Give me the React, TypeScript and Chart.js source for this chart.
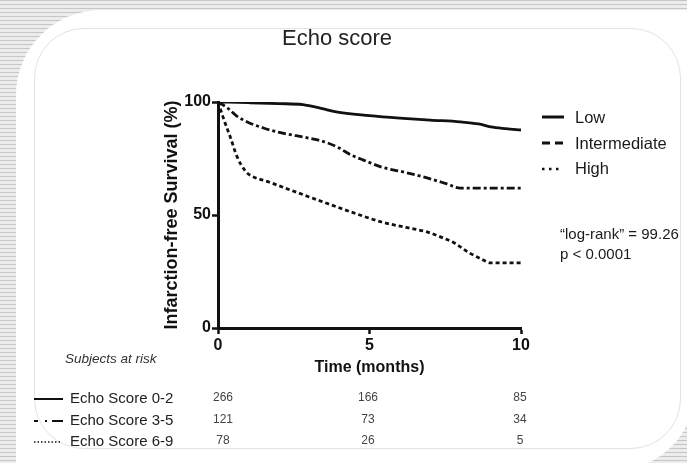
import React, { useEffect, useRef } from 'react';
import { Chart, registerables } from 'chart.js';

Chart.register(...registerables);

const FONT = '"Liberation Sans", Arial, Helvetica, sans-serif';

// ---- data ----
const seriesNames = ['Low', 'Intermediate', 'High'];

const timeLow = [0, 1, 2, 2.8, 3.4, 3.9, 5, 6, 7, 8, 8.6, 9, 9.5, 10];
const survivalLow = [100, 99.7, 99.3, 98.8, 97.2, 95.6, 94, 92.9, 92, 91.2, 90.3, 89, 88.2, 87.6];

const timeIntermediate = [0, 0.3, 0.6, 0.95, 1.5, 2.1, 3, 3.6, 4, 4.4, 4.8, 5.4, 6.2, 6.9, 7.5, 8, 10];
const survivalIntermediate = [100, 97.5, 94, 91.3, 88.5, 86.3, 84, 82, 79.6, 76.5, 74.3, 71.2, 68.8, 66.4, 64, 61.9, 61.9];

const timeHigh = [0, 0.2, 0.4, 0.63, 0.9, 1.05, 1.7, 2.4, 3.3, 4.4, 5.4, 6.2, 6.9, 7.4, 7.8, 8.3, 8.7, 9, 10];
const survivalHigh = [100, 92, 84.7, 75.8, 69.5, 67.7, 64.5, 61, 56.6, 51.3, 46.9, 44.5, 42.5, 40, 37.6, 33.2, 30.5, 28.8, 28.8];

const xTickStep = 5;
const yTickStep = 50;

const riskTitle = 'Subjects at risk';
const riskLabels = ['Echo Score 0-2', 'Echo Score 3-5', 'Echo Score 6-9'];
const riskLow = [266, 166, 85];
const riskIntermediate = [121, 73, 34];
const riskHigh = [78, 26, 5];

const chartTitle = 'Echo score';
const annotationLines = ['\u201Clog-rank\u201D = 99.26', 'p < 0.0001'];

// ---- layout (pixels) ----
const W = 687;
const H = 463;
const riskCols = [223, 368, 520];
const riskRows = [397, 419, 440];
const legendRows = [117, 143, 168];

type TP = { x: number; y: number; size: number; center?: boolean; style?: React.CSSProperties; children: React.ReactNode };
function T({ x, y, size, center, style, children }: TP) {
  return (
    <div
      style={{
        position: 'absolute',
        left: x,
        top: y,
        transform: center ? 'translate(-50%, -50%)' : 'translate(0, -50%)',
        fontFamily: FONT,
        fontSize: size,
        lineHeight: 1,
        whiteSpace: 'nowrap',
        color: '#1a1a1a',
        ...style,
      }}
    >
      {children}
    </div>
  );
}

export default function App() {
  const ref = useRef<HTMLCanvasElement>(null);

  useEffect(() => {
    const canvas = ref.current;
    if (!canvas) return;
    Chart.defaults.font.family = FONT;
    const mk = (t: number[], v: number[]) => t.map((x, i) => ({ x, y: v[i] }));
    const common = {
      borderColor: '#111',
      backgroundColor: '#111',
      borderWidth: 2.8,
      pointRadius: 0,
      fill: false,
      cubicInterpolationMode: 'monotone' as const,
    };
    const chart = new Chart(canvas, {
      type: 'line',
      data: {
        datasets: [
          { ...common, label: seriesNames[0], data: mk(timeLow, survivalLow) },
          { ...common, label: seriesNames[1], data: mk(timeIntermediate, survivalIntermediate), borderDash: [8, 3, 3, 3] },
          { ...common, label: seriesNames[2], data: mk(timeHigh, survivalHigh), borderDash: [4, 3] },
        ],
      },
      options: {
        animation: false,
        responsive: false,
        maintainAspectRatio: false,
        layout: { padding: { top: 102, right: 166, left: 0, bottom: 0 } },
        plugins: { legend: { display: false }, tooltip: { enabled: false } },
        scales: {
          x: {
            type: 'linear',
            min: 0,
            max: 10,
            afterFit: (s: any) => { s.height = H - 328; },
            ticks: { stepSize: xTickStep, font: { size: 16, weight: 'bold' }, color: '#111', padding: 2, maxRotation: 0 },
            grid: { drawOnChartArea: false, drawTicks: true, tickLength: 6, tickWidth: 2.5, tickColor: '#111' },
            border: { display: true, color: '#111', width: 3 },
            title: {
              display: true,
              text: 'Time (months)',
              font: { size: 16, weight: 'bold' },
              color: '#111',
              padding: { top: 0, bottom: 86 },
            },
          },
          y: {
            type: 'linear',
            min: 0,
            max: 100,
            afterFit: (s: any) => { s.width = 218; },
            ticks: { stepSize: yTickStep, font: { size: 16, weight: 'bold' }, color: '#111', padding: 1 },
            grid: { drawOnChartArea: false, drawTicks: true, tickLength: 6, tickWidth: 2.5, tickColor: '#111' },
            border: { display: true, color: '#111', width: 3 },
            title: {
              display: true,
              text: 'Infarction-free Survival (%)',
              font: { size: 18, weight: 'bold' },
              color: '#111',
              padding: { top: 161, bottom: 0 },
            },
          },
        },
      },
    });
    return () => chart.destroy();
  }, []);

  const stripes = 'repeating-linear-gradient(to bottom, #c6c6c6 0px, #c6c6c6 1.5px, #ececec 1.5px, #ececec 4px)';
  const riskData = [riskLow, riskIntermediate, riskHigh];

  return (
    <div style={{ position: 'fixed', left: 0, top: 0, width: W, height: H, overflow: 'hidden', background: stripes }}>
      {/* white panel */}
      <div
        style={{
          position: 'absolute',
          left: 16,
          top: 10,
          width: 695 - 16,
          height: 470 - 10,
          background: '#fff',
          borderTopLeftRadius: 85,
          borderBottomRightRadius: 80,
        }}
      />
      {/* inner border */}
      <div
        style={{
          position: 'absolute',
          left: 34,
          top: 28,
          width: 681 - 34,
          height: 449 - 28,
          border: '1px solid #e2e2e2',
          borderRadius: 50,
          boxSizing: 'border-box',
        }}
      />
      <canvas ref={ref} width={W} height={H} style={{ position: 'absolute', left: 0, top: 0 }} />

      <T x={337} y={38} size={22} center style={{ color: '#222' }}>{chartTitle}</T>

      {/* legend */}
      <svg width={W} height={H} style={{ position: 'absolute', left: 0, top: 0, pointerEvents: 'none' }}>
        <line x1={542} x2={564} y1={legendRows[0]} y2={legendRows[0]} stroke="#111" strokeWidth={3} />
        <line x1={542} x2={563} y1={legendRows[1]} y2={legendRows[1]} stroke="#111" strokeWidth={3} strokeDasharray="8 5" />
        <line x1={542} x2={562} y1={legendRows[2] + 1} y2={legendRows[2] + 1} stroke="#111" strokeWidth={2.5} strokeDasharray="2.5 4.5" />
        {/* risk table samples */}
        <line x1={34} x2={63} y1={riskRows[0] + 2} y2={riskRows[0] + 2} stroke="#111" strokeWidth={2} />
        <line x1={34} x2={63} y1={riskRows[1] + 2} y2={riskRows[1] + 2} stroke="#111" strokeWidth={2} strokeDasharray="4 7 2 5 11" />
        <line x1={34} x2={62} y1={riskRows[2] + 2} y2={riskRows[2] + 2} stroke="#111" strokeWidth={1.5} strokeDasharray="1.5 2" />
      </svg>
      {seriesNames.map((n, i) => (
        <T key={n} x={575} y={legendRows[i]} size={16.5}>{n}</T>
      ))}

      {annotationLines.map((l, i) => (
        <T key={l} x={560} y={233 + i * 20} size={15}>{l}</T>
      ))}

      <T x={65} y={359} size={13.5} style={{ fontStyle: 'italic', color: '#333' }}>{riskTitle}</T>
      {riskLabels.map((l, i) => (
        <T key={l} x={70} y={riskRows[i]} size={15} style={{ color: '#222' }}>{l}</T>
      ))}
      {riskData.map((row, r) =>
        row.map((v, c) => (
          <T key={`${r}-${c}`} x={riskCols[c]} y={riskRows[r]} size={12} center style={{ color: '#444' }}>{v}</T>
        ))
      )}
    </div>
  );
}
